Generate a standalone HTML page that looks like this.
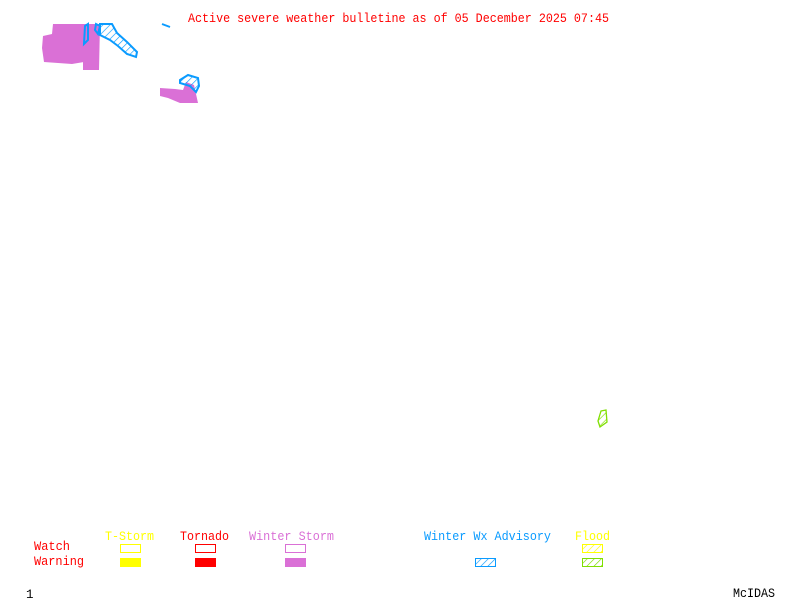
<!DOCTYPE html>
<html><head><style>
html,body{margin:0;padding:0;background:#fff;}
svg{display:block}
text{font-family:"Liberation Mono","DejaVu Sans Mono",monospace;font-size:12.5px;}
</style></head><body>
<svg width="800" height="600" viewBox="0 0 800 600" xmlns="http://www.w3.org/2000/svg">
<defs>
<pattern id="hb" width="5" height="5" patternUnits="userSpaceOnUse" patternTransform="rotate(45)"><line x1="0" y1="0" x2="0" y2="5" stroke="#0a9bff" stroke-width="1.3"/></pattern>
<pattern id="hy" width="5" height="5" patternUnits="userSpaceOnUse" patternTransform="rotate(45)"><line x1="0" y1="0" x2="0" y2="5" stroke="#ffff00" stroke-width="1.3"/></pattern>
<pattern id="hg" width="5" height="5" patternUnits="userSpaceOnUse" patternTransform="rotate(45)"><line x1="0" y1="0" x2="0" y2="5" stroke="#7fdf00" stroke-width="1.3"/></pattern>
</defs>
<text x="188" y="22" fill="#ff0000" textLength="421" lengthAdjust="spacingAndGlyphs">Active severe weather bulletine as of 05 December 2025 07:45</text>
<path d="M53,24 L85,24 L86,60 L84,70 L97,70 L98,40 L100,24 L97,48 L96,68 L90,68 L88,62 L84,62 L72,64 L44,62 L42,48 L43,36 L52,34 Z" fill="#da70d6"/>
<path d="M83,24 L100,24 L99,70 L83,70 Z" fill="#da70d6"/>
<path d="M160,88 L175,89 L183,90 L186,82 L194,85 L198,103 L180,103 L168,98 L160,96 Z" fill="#da70d6"/>
<path d="M100,24 L112,24 L117,33 L127,42 L137,52 L136,57 L127,54 L118,46 L110,40 L100,35 Z" fill="url(#hb)" stroke="#0a9bff" stroke-width="2"/>
<path d="M85,26 L88,24 L88,40 L84,44 Z" fill="none" stroke="#0a9bff" stroke-width="2"/>
<path d="M96,24 L100,26 L98,34 L95,30 Z" fill="none" stroke="#0a9bff" stroke-width="2"/>
<path d="M180,80 L188,75 L198,78 L199,86 L196,92 L190,86 L180,83 Z" fill="url(#hb)" stroke="#0a9bff" stroke-width="2"/>
<path d="M162,24 L170,27" stroke="#0a9bff" stroke-width="2"/>
<path d="M601,411 L606,410 L607,422 L600,427 L598,421 Z" fill="url(#hg)" stroke="#7fdf00" stroke-width="1.3"/>
<text x="105" y="540" fill="#ffff00" textLength="49" lengthAdjust="spacingAndGlyphs">T-Storm</text>
<text x="180" y="540" fill="#ff0000" textLength="49" lengthAdjust="spacingAndGlyphs">Tornado</text>
<text x="249" y="540" fill="#da70d6" textLength="85" lengthAdjust="spacingAndGlyphs">Winter Storm</text>
<text x="424" y="540" fill="#0a9bff" textLength="127" lengthAdjust="spacingAndGlyphs">Winter Wx Advisory</text>
<text x="575" y="540" fill="#ffff00" textLength="35" lengthAdjust="spacingAndGlyphs">Flood</text>
<text x="34" y="550" fill="#ff0000" textLength="36" lengthAdjust="spacingAndGlyphs">Watch</text>
<text x="34" y="565" fill="#ff0000" textLength="50" lengthAdjust="spacingAndGlyphs">Warning</text>
<rect x="120.5" y="544.5" width="20" height="8" fill="none" stroke="#ffff00"/>
<rect x="195.5" y="544.5" width="20" height="8" fill="none" stroke="#ff0000"/>
<rect x="285.5" y="544.5" width="20" height="8" fill="none" stroke="#da70d6"/>
<rect x="582.5" y="544.5" width="20" height="8" fill="url(#hy)" stroke="#ffff00"/>
<rect x="120" y="558" width="21" height="9" fill="#ffff00"/>
<rect x="195" y="558" width="21" height="9" fill="#ff0000"/>
<rect x="285" y="558" width="21" height="9" fill="#da70d6"/>
<rect x="475.5" y="558.5" width="20" height="8" fill="url(#hb)" stroke="#0a9bff"/>
<rect x="582.5" y="558.5" width="20" height="8" fill="url(#hg)" stroke="#7fdf00"/>
<text x="26" y="598" fill="#000">1</text>
<text x="733" y="597" fill="#000" textLength="42" lengthAdjust="spacingAndGlyphs">McIDAS</text>
</svg>
</body></html>
